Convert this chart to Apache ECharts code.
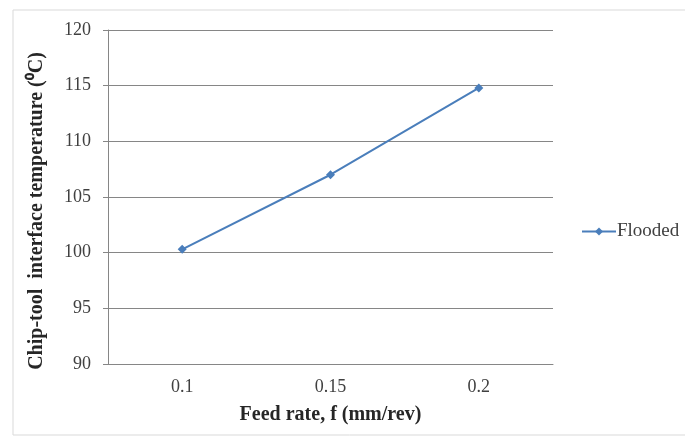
<!DOCTYPE html>
<html><head><meta charset="utf-8">
<script src="https://cdn.jsdelivr.net/npm/echarts@6/dist/echarts.min.js"></script>
<style>html,body{margin:0;padding:0;background:#fff}#c{width:685px;height:443px}</style>
</head><body><div id="c"></div>
<script>
const categories = ['0.1', '0.15', '0.2'];
const flooded = [100.3, 107.0, 114.8];
const seriesName = 'Flooded';
const chart = echarts.init(document.getElementById('c'));
const serif = '"Liberation Serif", "Times New Roman", serif';
chart.setOption({
  animation: false,
  backgroundColor: '#fff',
  graphic: [{type: 'rect', shape: {x: 13, y: 10, width: 680, height: 425}, style: {fill: 'none', stroke: '#d9d9d9', lineWidth: 1}, silent: true}],
  grid: {left: 108, top: 30, width: 445, height: 334},
  legend: {
    orient: 'vertical', left: 576, top: 217,
    itemWidth: 34, itemHeight: 10, itemGap: 4,
    data: [{name: seriesName}],
    textStyle: {fontFamily: serif, fontSize: 19, color: '#404040', padding: [0, 0, 0, -4]}
  },
  xAxis: {
    type: 'category', data: categories, boundaryGap: true,
    axisLine: {lineStyle: {color: '#868686'}},
    axisTick: {show: false},
    axisLabel: {fontFamily: serif, fontSize: 18, color: '#404040', margin: 14},
    name: 'Feed rate, f (mm/rev)', nameLocation: 'middle', nameGap: 41,
    nameTextStyle: {fontFamily: serif, fontSize: 20, fontWeight: 'bold', color: '#262626'}
  },
  yAxis: {
    type: 'value', min: 90, max: 120, interval: 5,
    axisLine: {show: true, lineStyle: {color: '#868686'}},
    axisTick: {show: true, length: 5, lineStyle: {color: '#868686'}},
    axisLabel: {fontFamily: serif, fontSize: 18, color: '#404040', margin: 17},
    splitLine: {lineStyle: {color: '#868686'}},
    name: 'Chip-tool  interface temperature (⁰C)', nameLocation: 'middle', nameGap: 61,
    nameTextStyle: {fontFamily: serif, fontSize: 20, fontWeight: 'bold', color: '#262626', padding: [0, 28, 0, 0]}
  },
  series: [{
    name: seriesName, type: 'line', data: flooded,
    symbol: 'diamond', symbolSize: 9,
    lineStyle: {color: '#4a7ebb', width: 2},
    itemStyle: {color: '#4a7ebb'}
  }]
});
</script></body></html>
